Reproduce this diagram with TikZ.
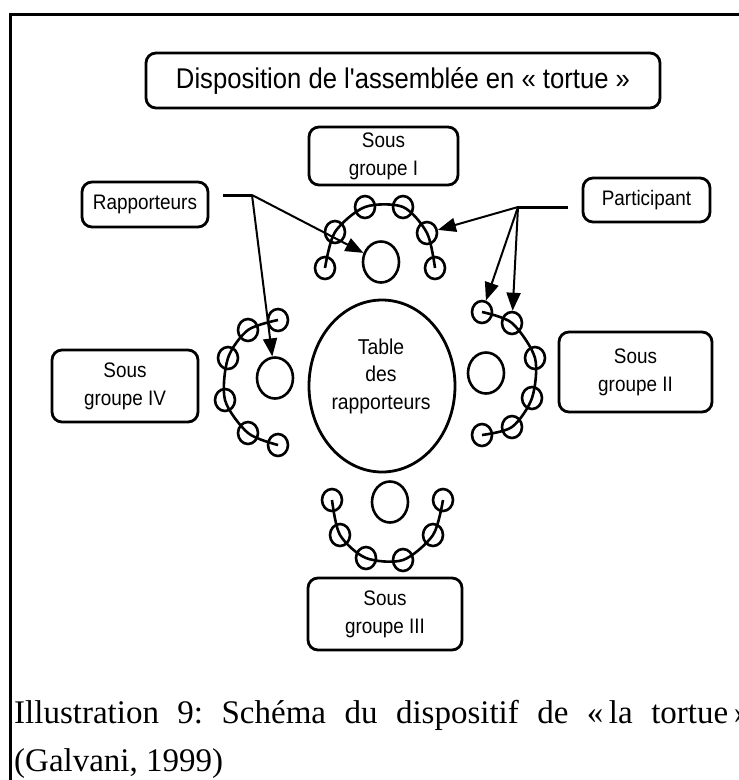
\documentclass[tikz,border=0pt]{standalone}
\usepackage{fontspec}
\setmainfont{Liberation Serif}
\newfontfamily\helv[FakeStretch=0.9]{Liberation Sans}
\usetikzlibrary{arrows.meta,shapes.geometric}
\frenchspacing

\begin{document}
\begin{tikzpicture}[x=1pt,y=-1pt]

    % Styles
    \tikzset{
        box/.style={draw, line width=2.8pt, rounded corners=10pt, align=center,
            inner sep=0pt, font=\helv\fontsize{21}{28}\selectfont},
        seat/.style={draw, ellipse, line width=2.6pt, inner sep=0pt,
            minimum width=20pt, minimum height=22pt},
        desk/.style={seat, minimum width=36pt, minimum height=41pt},
        lead/.style={line width=2pt},
        pointer/.style={lead, -{Triangle[length=18pt,width=14pt]}}
    }

    \useasboundingbox (0,0) rectangle (739,780);

    % Frame
    \draw[line width=3pt] (10,790) -- (10,14) -- (760,14);

    % Title and labels
    \node[box, minimum width=514pt, minimum height=55pt,
        font=\helv\fontsize{28.5}{30}\selectfont] (title) at (403,80.5)
        {Disposition de l'assemblée en « tortue »};
    \node[box, minimum width=149pt, minimum height=58pt] (sg1) at (383.5,156) {Sous\\groupe I};
    \node[box, minimum width=153pt, minimum height=80pt] (sg2) at (635.5,372) {Sous\\groupe II};
    \node[box, minimum width=154pt, minimum height=72pt] (sg3) at (385,614) {Sous\\groupe III};
    \node[box, minimum width=146pt, minimum height=72pt] (sg4) at (125,386) {Sous\\groupe IV};
    \node[box, minimum width=126pt, minimum height=45pt] (rapp) at (145,204.5) {Rapporteurs};
    \node[box, minimum width=127pt, minimum height=44pt] (part) at (646.5,200) {Participant};

    % Table
    \node[draw, ellipse, line width=2.8pt, minimum width=146pt, minimum height=172pt] (table) at (382,386) {};
    \node[align=center, font=\helv\fontsize{21.5}{27.5}\selectfont] (tabtext) at (381,376)
        {Table\\des\\rapporteurs};

    % Rapporteurs of each group
    \node[desk] (r1) at (381,262) {};
    \node[desk] (r2) at (486,373) {};
    \node[desk] (r3) at (390,502) {};
    \node[desk] (r4) at (275,378) {};

    % Seats
    \foreach \i/\x/\y in {1/325/268,2/335/232,3/365/207,4/403/207,5/427/233,6/435/268}
        \node[seat] (s1\i) at (\x,\y) {};
    \foreach \i/\x/\y in {1/482/312,2/512/323,3/535/358,4/532/398,5/512/427,6/482/435}
        \node[seat] (s2\i) at (\x,\y) {};
    \foreach \i/\x/\y in {1/332/500,2/340/535,3/366/558,4/403/560,5/433/535,6/443/500}
        \node[seat] (s3\i) at (\x,\y) {};
    \foreach \i/\x/\y in {1/278/320,2/248/330,3/228/358,4/225/400,5/248/433,6/278/445}
        \node[seat] (s4\i) at (\x,\y) {};
    \foreach \g in {1,2,3,4}
        \draw[line width=2.6pt] plot[smooth] coordinates
            {(s\g1.center) (s\g2.center) (s\g3.center) (s\g4.center) (s\g5.center) (s\g6.center)};

    % Connectors
    \coordinate (rs) at (223,195);
    \coordinate (rj) at (252,195);
    \coordinate (ps) at (568,207);
    \coordinate (pj) at (518,207);
    \draw[line width=3pt] (rs) -- (rj);
    \draw[line width=3pt] (ps) -- (pj);
    \draw[pointer] (rj) -- (r1);
    \draw[pointer] (rj) -- (r4);
    \draw[pointer] (pj) -- (s15);
    \draw[pointer] (pj) -- (s21);
    \draw[pointer] (pj) -- (s22);

    % Caption
    \node[anchor=base west, inner sep=0pt, font=\fontsize{33}{40}\selectfont] (cap1) at (14,723)
        {\makebox[736pt][s]{Illustration 9: Schéma du dispositif de «\,la tortue\,»}};
    \node[anchor=base west, inner sep=0pt, font=\fontsize{33}{40}\selectfont] (cap2) at (14,771)
        {(Galvani, 1999)};
\end{tikzpicture}
\end{document}
